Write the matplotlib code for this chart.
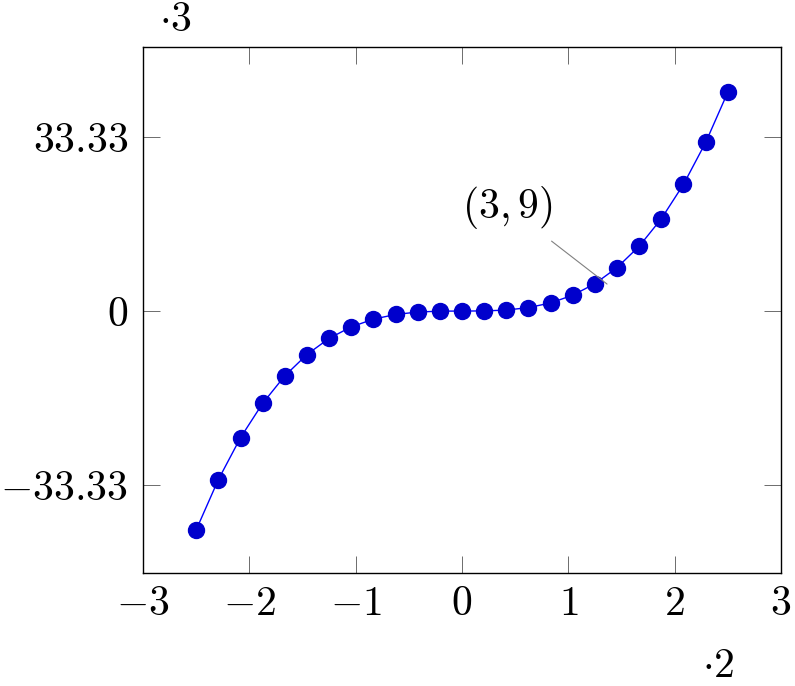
import numpy as np
import matplotlib
matplotlib.use('Agg')
import matplotlib.pyplot as plt

plt.rcParams['mathtext.fontset'] = 'cm'
plt.rcParams['font.family'] = 'serif'
plt.rcParams['font.serif'] = ['cmr10']
plt.rcParams['axes.formatter.use_mathtext'] = True

# data as shown on the axes
x_vals = [-2.5, -2.292, -2.083, -1.875, -1.667, -1.458, -1.25, -1.042, -0.833,
          -0.625, -0.417, -0.208, 0.0, 0.208, 0.417, 0.625, 0.833, 1.042,
          1.25, 1.458, 1.667, 1.875, 2.083, 2.292, 2.5]
y_vals = [-41.95, -32.33, -24.27, -17.70, -12.43, -8.33, -5.24, -3.04, -1.55,
          -0.66, -0.19, -0.02, 0.0, 0.02, 0.19, 0.66, 1.55, 3.04,
          5.24, 8.33, 12.43, 17.70, 24.27, 32.33, 41.95]

x_ticks = [-3, -2, -1, 0, 1, 2, 3]
x_labels = ['$-3$', '$-2$', '$-1$', '$0$', '$1$', '$2$', '$3$']
y_ticks = [-33.33, 0, 33.33]
y_labels = ['$-33.33$', '$0$', '$33.33$']

FS = 30

fig = plt.figure(figsize=(7.95, 6.86), dpi=100)
ax = fig.add_axes([143/795, 1-573/686, (781-143)/795, (573-47)/686])

ax.plot(x_vals, y_vals, color='#0000ff', lw=1.0, marker='o', ms=11.5,
        mfc='#0000cc', mec='#0000cc', zorder=3)

ax.set_xlim(-3, 3)
ax.set_ylim(-50.2, 50.6)
ax.set_xticks(x_ticks)
ax.set_xticklabels(x_labels, fontsize=FS)
ax.set_yticks(y_ticks)
ax.set_yticklabels(y_labels, fontsize=FS)
ax.tick_params(direction='in', length=12, width=0.6, color='#555555',
               top=True, right=True)
ax.tick_params(axis='y', pad=11)
ax.tick_params(axis='x', pad=9)
for s in ax.spines.values():
    s.set_linewidth(1.0)

# pin annotation
ax.annotate('$(3,9)$', xy=(1.364, 5.17), xytext=(0.43, 19.9),
            fontsize=FS, ha='center', va='center',
            arrowprops=dict(arrowstyle='-', color='gray', lw=0.8,
                            shrinkA=9, shrinkB=0))

fig.text(175/795, 1-20/686, r'$\cdot 3$', fontsize=FS, ha='center', va='center')
fig.text(718/795, 1-666/686, r'$\cdot 2$', fontsize=FS, ha='center', va='center')

fig.savefig('out.png', dpi=100)
